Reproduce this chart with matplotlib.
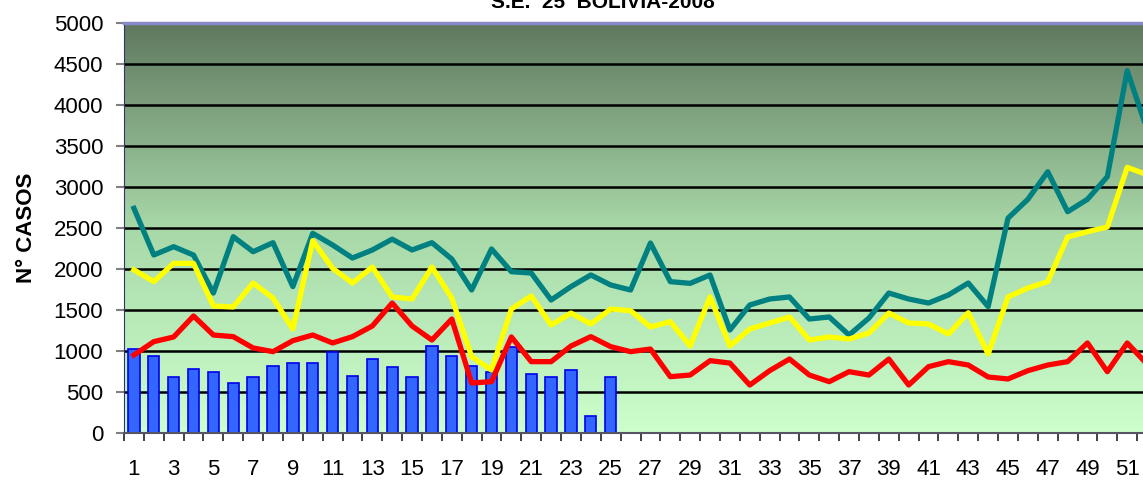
import numpy as np
import matplotlib
matplotlib.use("Agg")
import matplotlib.pyplot as plt
from matplotlib.colors import LinearSegmentedColormap

plt.rcParams['font.family'] = ['Liberation Sans', 'DejaVu Sans']

# semanas epidemiologicas
weeks = list(range(1, 53))

# casos 2008 (hasta S.E. 25)
cases_2008 = [1020, 943, 683, 780, 748, 610, 683, 821, 849, 849, 992, 699, 898,
              801, 683, 1065, 943, 821, 748, 1045, 724, 683, 768, 211, 683]

# canal endemico
upper = [2740, 2171, 2272, 2170, 1707, 2394, 2211, 2321, 1785, 2435, 2293, 2134,
         2232, 2364, 2232, 2321, 2122, 1744, 2244, 1967, 1951, 1622, 1785, 1927,
         1805, 1744, 2317, 1846, 1825, 1927, 1256, 1561, 1634, 1659, 1390, 1415,
         1195, 1402, 1707, 1634, 1585, 1683, 1829, 1541, 2620, 2850, 3186, 2699,
         2850, 3126, 4418, 3700]
middle = [1990, 1846, 2069, 2069, 1549, 1537, 1829, 1646, 1268, 2346, 2008, 1829,
          2024, 1659, 1634, 2024, 1646, 931, 768, 1512, 1671, 1317, 1463, 1329,
          1512, 1492, 1293, 1358, 1061, 1659, 1061, 1268, 1341, 1415, 1134, 1171,
          1146, 1219, 1463, 1341, 1329, 1207, 1467, 963, 1659, 1768, 1846, 2390,
          2455, 2512, 3240, 3150]
lower = [951, 1114, 1171, 1427, 1195, 1175, 1037, 992, 1126, 1195, 1098, 1175,
         1305, 1585, 1305, 1134, 1390, 610, 626, 1171, 870, 870, 1061, 1175, 1053,
         992, 1024, 687, 707, 882, 853, 585, 760, 902, 707, 626, 748, 707, 902,
         585, 809, 870, 829, 683, 659, 760, 829, 870, 1098, 748, 1098, 840]

yticks = list(range(0, 5001, 500))
xlabels = [str(w) for w in weeks if w % 2 == 1]

fig = plt.figure(figsize=(11.43, 4.8), dpi=100)
ax = fig.add_axes([124 / 1143, 47 / 480, 1033 / 1143, 410 / 480])

# fondo degradado
cmap = LinearSegmentedColormap.from_list("bg", ["#CCFFCC", "#A8D8A8", "#5F785F"])
grad = np.linspace(0, 1, 256).reshape(-1, 1)
ax.imshow(grad, cmap=cmap, origin='lower', aspect='auto',
          extent=[0.5, 52.5, 0, 5000], zorder=0)

for y in yticks[1:]:
    ax.axhline(y, color='black', linewidth=1.8, zorder=1)

ax.bar(weeks[:len(cases_2008)], cases_2008, width=0.57, color='#3366FF',
       edgecolor='#0000EE', linewidth=1.2, zorder=2)
ax.plot(weeks, upper, color='#008080', linewidth=3.8, zorder=3)
ax.plot(weeks, middle, color='#FFFF00', linewidth=3.8, zorder=4)
ax.plot(weeks, lower, color='#FF0000', linewidth=3.8, zorder=5)

ax.set_xlim(0.5, 52.5)
ax.set_ylim(0, 5000)
ax.set_yticks(yticks)
ax.set_xticks([w for w in weeks if w % 2 == 1])
ax.set_xticklabels(xlabels)
ax.set_xticks(np.arange(0.5, 53, 1), minor=True)
ax.tick_params(axis='x', which='major', length=0, pad=19, labelsize=16)
ax.tick_params(axis='x', which='minor', length=6, width=1.2, color='#222222')
ax.tick_params(axis='y', length=6, width=1.5, color='#808080', pad=9, labelsize=16)

ax.spines['top'].set_color('#8888CC')
ax.spines['top'].set_linewidth(2.5)
ax.spines['left'].set_color('#333366')
ax.spines['bottom'].set_color('#555566')
ax.spines['bottom'].set_linewidth(1.5)
ax.spines['right'].set_visible(False)

ax.set_ylabel("N° CASOS", fontsize=16, fontweight='bold', labelpad=12)
fig.text(603 / 1143, 1 - 8 / 480, "S.E.  25  BOLIVIA-2008", fontsize=15,
         fontweight='bold', ha='center', va='baseline')

fig.savefig("out.png", dpi=100)
